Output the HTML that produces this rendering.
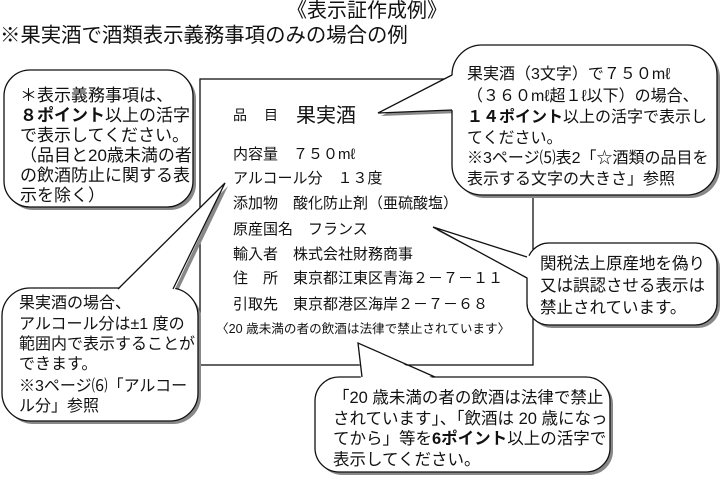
<!DOCTYPE html>
<html><head><meta charset="utf-8"><style>
html,body{margin:0;padding:0;background:#fff;}
svg{display:block;}
text{font-family:"Liberation Sans","Noto Sans CJK JP",sans-serif;fill:#111;}
</style></head><body>
<svg width="720" height="480" viewBox="0 0 720 480" xmlns="http://www.w3.org/2000/svg">
<text x="287" y="17" font-size="20">《表示証作成例》</text>
<text x="0" y="42" font-size="20.4">※果実酒で酒類表示義務事項のみの場合の例</text>

<!-- main rect -->
<rect x="200" y="79" width="333" height="286" fill="#fff" stroke="#111" stroke-width="1.3"/>
<g font-size="15">
<text x="233" y="120" font-size="14">品</text><text x="264" y="120" font-size="14">目</text>
<text x="296" y="122" font-size="20">果実酒</text>
<text x="233" y="159">内容量　７５０mℓ</text>
<text x="233" y="183">アルコール分　１３度</text>
<text x="233" y="208">添加物　酸化防止剤（亜硫酸塩）</text>
<text x="233" y="234">原産国名　フランス</text>
<text x="233" y="259">輸入者　株式会社財務商事</text>
<text x="233" y="283">住　所　東京都江東区青海２－７－１１</text>
<text x="233" y="309">引取先　東京都港区海岸２－７－６８</text>
<text x="216" y="333" font-size="12.6">〈20 歳未満の者の飲酒は法律で禁止されています〉</text>
</g>

<!-- shadows -->
<g fill="#888" transform="translate(3,3)">
<rect x="4" y="70" width="189" height="137" rx="26"/>
<rect x="452" y="45" width="265" height="150" rx="30"/><polygon points="378,113 456,75 456,110"/>
<rect x="2" y="288" width="196" height="133" rx="28"/><polygon points="225,183 118,292 173,292"/>
<rect x="527" y="243" width="190" height="82" rx="22"/><polygon points="433,227 531,257 531,278"/>
<rect x="315" y="377" width="295" height="95" rx="24"/><polygon points="358,343 362,381 435,381"/>
</g>

<g fill="#fff" stroke="#111" stroke-width="1.3">
<rect x="4" y="70" width="189" height="137" rx="26"/>
<rect x="452" y="45" width="265" height="150" rx="30"/>
<rect x="2" y="288" width="196" height="133" rx="28"/>
<rect x="527" y="243" width="190" height="82" rx="22"/>
<rect x="315" y="377" width="295" height="95" rx="24"/>
</g>
<g fill="#fff" stroke="none">
<polygon points="378,113 455,74 455,110"/>
<polygon points="225,183 117,291 174,291"/>
<polygon points="433,227 530,256 530,279"/>
<polygon points="358,343 361,380 437,380"/>
</g>
<g fill="none" stroke="#111" stroke-width="1.3">
<polyline points="452,75 378,113 452,110"/>
<polyline points="118,289 225,183 173,289"/>
<polyline points="527,257 433,227 527,278"/>
<polyline points="362,377 358,343 435,377"/>
</g>

<g font-size="17">
<text x="20" y="101">＊表示義務事項は、</text>
<text x="20" y="121"><tspan font-weight="bold">８ポイント</tspan>以上の活字</text>
<text x="20" y="141">で表示してください。</text>
<text x="20" y="161">（品目と20歳未満の者</text>
<text x="20" y="181">の飲酒防止に関する表</text>
<text x="20" y="201">示を除く）</text>
</g>
<g font-size="16">
<text x="467" y="79">果実酒（3文字）で７５０mℓ</text>
<text x="467" y="101">（３６０mℓ超１ℓ以下）の場合、</text>
<text x="467" y="122"><tspan font-weight="bold">１４ポイント</tspan>以上の活字で表示し</text>
<text x="467" y="143">てください。</text>
<text x="467" y="163">※3ページ⑸表2「☆酒類の品目を</text>
<text x="467" y="184">表示する文字の大きさ」参照</text>
</g>
<g font-size="16">
<text x="19" y="308">果実酒の場合、</text>
<text x="19" y="329">アルコール分は±1 度の</text>
<text x="19" y="349">範囲内で表示することが</text>
<text x="19" y="369">できます。</text>
<text x="19" y="391">※3ページ⑹「アルコー</text>
<text x="19" y="411">ル分」参照</text>
</g>
<g font-size="16.5">
<text x="540" y="269">関税法上原産地を偽り</text>
<text x="540" y="291">又は誤認させる表示は</text>
<text x="540" y="313">禁止されています。</text>
</g>
<g font-size="16.5">
<text x="333" y="403">「20 歳未満の者の飲酒は法律で禁止</text>
<text x="333" y="424">されています」、「飲酒は 20 歳になっ</text>
<text x="333" y="444">てから」等を<tspan font-weight="bold">6ポイント</tspan>以上の活字で</text>
<text x="333" y="465">表示してください。</text>
</g>
</svg>
</body></html>
